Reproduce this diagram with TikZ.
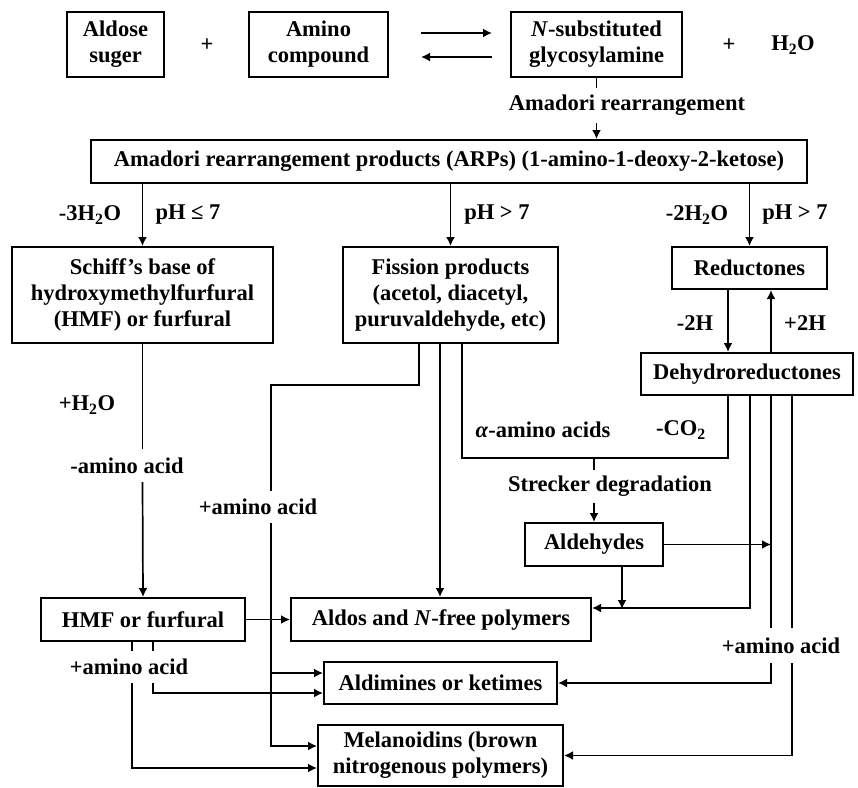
\documentclass[tikz,border=0pt]{standalone}
\usepackage{fontspec}
\setmainfont{Liberation Serif}
\usetikzlibrary{arrows.meta,calc}
\begin{document}
\begin{tikzpicture}[x=1pt,y=-1pt,
  font=\bfseries\fontsize{22.5}{26}\selectfont,
  box/.style={draw,line width=2pt,inner sep=0pt,align=center},
  lab/.style={inner sep=0pt,align=center},
  conn/.style={line width=1.7pt},
  arr/.style={conn,-{Latex[length=9pt,width=9pt]}}]
\useasboundingbox (0,0) rectangle (858,787);
% boxes
\node[box,minimum width=97pt,minimum height=65pt] (aldose) at (115.5,44.5) {Aldose\\suger};
\node[box,minimum width=139pt,minimum height=65pt] (amino) at (318.5,44.5) {Amino\\compound};
\node[box,minimum width=171pt,minimum height=65pt] (nsub) at (596.5,44.5) {\textit{N}-substituted\\glycosylamine};
\node[box,minimum width=716pt,minimum height=43pt] (arp) at (449,161.5) {Amadori rearrangement products (ARPs) (1-amino-1-deoxy-2-ketose)};
\node[box,minimum width=261pt,minimum height=96pt] (schiff) at (142.5,295) {Schiff’s base of\\hydroxymethylfurfural\\(HMF) or furfural};
\node[box,minimum width=215pt,minimum height=96pt] (fission) at (450.5,295) {Fission products\\(acetol, diacetyl,\\puruvaldehyde, etc)};
\node[box,minimum width=155pt,minimum height=42pt] (reduct) at (749.5,268) {Reductones};
\node[box,minimum width=212pt,minimum height=42pt] (dehydro) at (747,374) {Dehydroreductones};
\node[box,minimum width=138pt,minimum height=43pt] (aldeh) at (594,544.5) {Aldehydes};
\node[box,minimum width=204pt,minimum height=43pt] (hmf) at (143,619.5) {HMF or furfural};
\node[box,minimum width=300pt,minimum height=43pt] (aldos) at (441,619.5) {Aldos and \textit{N}-free polymers};
\node[box,minimum width=233pt,minimum height=42pt] (aldim) at (440.5,683) {Aldimines or ketimes};
\node[box,minimum width=245pt,minimum height=61pt] (melan) at (440.5,755.5) {Melanoidins (brown\\nitrogenous polymers)};
% free labels
\node[lab] (plus1) at (207,45) {+};
\node[lab] (plus2) at (729,45) {+};
\node[lab] (water) at (793,45) {H\textsubscript{2}O};
\node[lab,minimum height=35pt] (amlab) at (627,105.5) {Amadori rearrangement};
\node[lab] (l1) at (90,215) {-3H\textsubscript{2}O};
\node[lab] (l2) at (188,215) {pH ≤ 7};
\node[lab] (l3) at (497,215) {pH > 7};
\node[lab] (l4) at (697,215) {-2H\textsubscript{2}O};
\node[lab] (l5) at (795,215) {pH > 7};
\node[lab] (l6) at (695,323) {-2H};
\node[lab] (l7) at (805,323) {+2H};
\node[lab] (hw) at (87,405) {+H\textsubscript{2}O};
\node[lab,minimum height=33pt] (aa1) at (127,465.5) {-amino acid};
\node[lab,minimum height=32pt] (aa2) at (258,507) {+amino acid};
\node[lab] (alab) at (543,430) {\textit{α}-amino acids};
\node[lab] (co2) at (681,430) {-CO\textsubscript{2}};
\node[lab,minimum height=33pt] (stlab) at (610,486.5) {Strecker degradation};
\node[lab,minimum height=35pt] (aa3) at (781,645.5) {+amino acid};
\node[lab,minimum height=32pt] (aa4) at (129,667) {+amino acid};
% coordinates
\coordinate (f1) at ($(fission.south)+(-31.5,0)$);
\coordinate (f2) at ($(fission.south)+(-10.5,0)$);
\coordinate (f3) at ($(fission.south)+(11.5,0)$);
\coordinate (d1) at ($(dehydro.south)+(-19,0)$);
\coordinate (d2) at ($(dehydro.south)+(3,0)$);
\coordinate (d3) at ($(dehydro.south)+(24,0)$);
\coordinate (d4) at ($(dehydro.south)+(45,0)$);
\coordinate (h1) at ($(hmf.south)+(-11,0)$);
\coordinate (h2) at ($(hmf.south)+(10,0)$);
\coordinate (r1) at ($(reduct.south)+(-21.5,0)$);
\coordinate (r2) at ($(reduct.south)+(21.5,0)$);
\coordinate (ubot) at (0,458);
\coordinate (fl) at (271,385);
\coordinate (alw1) at ($(aldim.west)+(0,-10)$);
% top equilibrium
\draw[arr] ($(amino.east)+(32,-11.5)$) -- ($(nsub.west)+(-18,-11.5)$);
\draw[arr] ($(nsub.west)+(-18,12.5)$) -- ($(amino.east)+(32,12.5)$);
% nsub -> arp
\draw[conn] (nsub.south) -- (nsub.south |- amlab.north);
\draw[arr] (nsub.south |- amlab.south) -- (nsub.south |- arp.north);
% arp -> three
\draw[arr] (arp.south -| schiff.north) -- (schiff.north);
\draw[arr] (arp.south -| fission.north) -- (fission.north);
\draw[arr] (arp.south -| reduct.north) -- (reduct.north);
% reductones <-> dehydro
\draw[arr] (r1) -- (r1 |- dehydro.north);
\draw[arr] (r2 |- dehydro.north) -- (r2);
% schiff -> hmf
\draw[conn] (schiff.south) -- (schiff.south |- aa1.north);
\draw[arr] (schiff.south |- aa1.south) -- (hmf.north);
% fission lines
\draw[arr] (f2) -- (f2 |- aldos.north);
\draw[conn] (f1) |- (fl) -- (fl |- aa2.north);
\draw[arr] (fl |- aa2.south) |- ($(melan.west)+(0,-9.5)$);
\draw[arr] (fl |- alw1) -- (alw1);
% strecker
\draw[conn] (f3) |- (d1 |- ubot) -- (d1);
\draw[conn] (aldeh.north |- ubot) -- (aldeh.north |- stlab.north);
\draw[arr] (aldeh.north |- stlab.south) -- (aldeh.north);
% dehydro lines
\draw[arr] (d2) |- ($(aldos.east)+(0,-11.5)$);
\draw[arr] ($(aldeh.south)+(28,0)$) -- ($(aldeh.south)+(28,42)$);
\draw[arr] (aldeh.east) -- (aldeh.east -| d3);
\draw[conn] (d3) -- (d3 |- aa3.north);
\draw[conn] (d4) -- (d4 |- aa3.north);
\draw[arr] (d3 |- aa3.south) |- (aldim.east);
\draw[arr] (d4 |- aa3.south) |- (melan.east);
% hmf
\draw[arr] (hmf.east) -- (aldos.west);
\draw[conn] (h1) -- (h1 |- aa4.north);
\draw[conn] (h2) -- (h2 |- aa4.north);
\draw[arr] (h2 |- aa4.south) |- ($(aldim.west)+(0,10)$);
\draw[arr] (h1 |- aa4.south) |- ($(melan.west)+(0,12.5)$);
\end{tikzpicture}
\end{document}
